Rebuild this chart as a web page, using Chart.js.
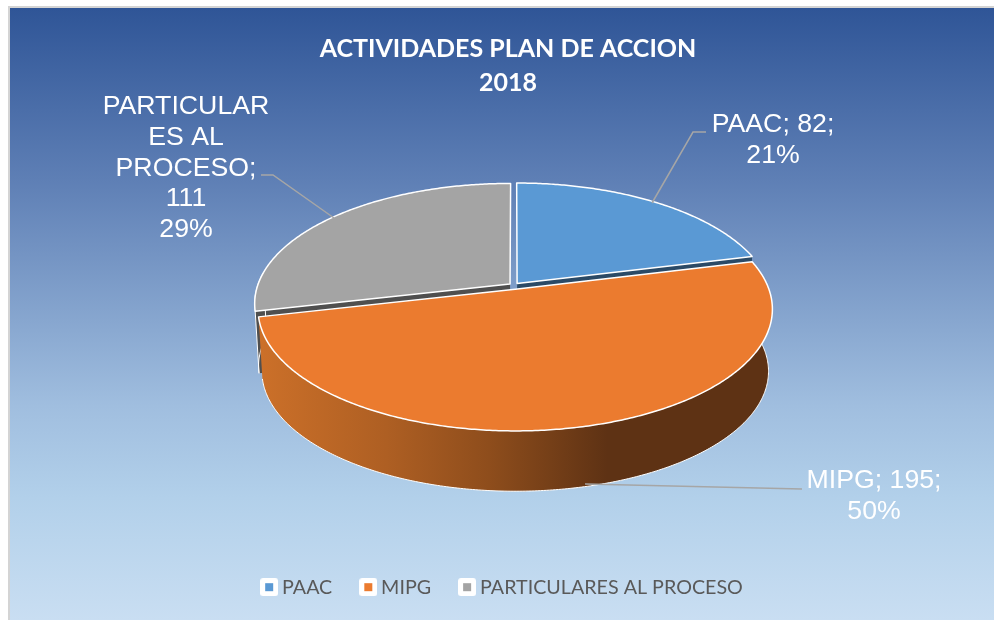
<!DOCTYPE html>
<html><head><meta charset="utf-8">
<style>html,body{margin:0;padding:0;background:#fff}canvas{display:block}</style>
<script src="https://cdn.jsdelivr.net/npm/chart.js@4/dist/chart.umd.min.js"></script>
</head><body><canvas id="c" width="994" height="620"></canvas>
<script>
const categories = ['PAAC', 'MIPG', 'PARTICULARES AL PROCESO'];
const values = [82, 195, 111];
const percents = [21, 50, 29];
const titleLines = ['ACTIVIDADES PLAN DE ACCION', '2018'];
const labelLines = [
  ['PAAC; 82;', '21%'],
  ['MIPG; 195;', '50%'],
  ['PARTICULAR', 'ES AL', 'PROCESO;', '111', '29%']
];
const topColors = ['#5A99D4', '#EB7B2F', '#A4A4A4'];
const wallColors = ['#2B4A66', null, '#4F4F4F'];
const labelAnchors = [[773, 125], [874, 481], [186, 107]];
const leaders = [
  [[652, 203], [693, 132], [706, 132]],
  [[585, 484], [802, 489]],
  [[334, 218], [273, 175], [261, 175]]
];

const G = {cx: 514, cy: 286, A: 117.5, B: 252.6, k: 0.1626, D: 62.5, shrink: 0.015, explode: 0.02, explodeY: 1.4};
function project(theta, r, dx, dy, z) {
  const u = r * Math.sin(theta) + dx, v = r * Math.cos(theta) + dy;
  const w = 1 + G.k * v, s = 1 - z * G.shrink;
  return [G.cx + G.B * s * u / w, G.cy + z * G.D - G.A * s * v / w];
}
function arcPts(a, b, dx, dy, z) {
  const pts = [], n = Math.max(2, Math.ceil(Math.abs(b - a) / 0.01));
  for (let i = 0; i <= n; i++) pts.push(project(a + (b - a) * i / n, 1, dx, dy, z));
  return pts;
}
function poly(ctx, pts) {
  ctx.beginPath();
  pts.forEach((p, i) => i ? ctx.lineTo(p[0], p[1]) : ctx.moveTo(p[0], p[1]));
  ctx.closePath();
}
const pie3d = {
  id: 'pie3d',
  afterLayout(chart) { chart.legend.right -= 7; },
  beforeDraw(chart) {
    const ctx = chart.ctx;
    ctx.save();
    ctx.fillStyle = '#fff'; ctx.fillRect(0, 0, 994, 620);
    ctx.fillStyle = '#D4D4D4'; ctx.fillRect(8, 6, 986, 614);
    const g = ctx.createLinearGradient(0, 8, 0, 620);
    g.addColorStop(0, '#2F5597');
    g.addColorStop(0.28, '#5E7FB5');
    g.addColorStop(0.65, '#A0BEDF');
    g.addColorStop(0.8, '#B2D0EA');
    g.addColorStop(1, '#C9DEF2');
    ctx.fillStyle = g; ctx.fillRect(10, 8, 984, 612);
    ctx.restore();
  },
  beforeDatasetsDraw(chart) {
    const ctx = chart.ctx, arcs = chart.getDatasetMeta(0).data;
    const slices = arcs.map((el, i) => {
      const a = el.startAngle + Math.PI / 2, b = el.endAngle + Math.PI / 2, mid = (a + b) / 2;
      return {i, a, b, dx: G.explode * Math.sin(mid), dy: G.explode * G.explodeY * Math.cos(mid)};
    });
    ctx.save();
    ctx.lineJoin = 'round';
    const face = s => { const c = project(0, 0, s.dx, s.dy, 0); return [c].concat(arcPts(s.a, s.b, s.dx, s.dy, 0)); };
    [slices[0], slices[2]].forEach(s => {
      const edge = s.i === 0 ? s.b : s.a;
      const q = [project(0, 0, s.dx, s.dy, 0), project(edge, 1, s.dx, s.dy, 0), project(edge, 1, s.dx, s.dy, 1), project(0, 0, s.dx, s.dy, 1)];
      ctx.fillStyle = wallColors[s.i];
      poly(ctx, q); ctx.fill();
      if (s.i === 2) {
        const side = arcPts(s.a, s.a + 0.32, s.dx, s.dy, 0).concat(arcPts(s.a + 0.32, s.a, s.dx, s.dy, 1));
        poly(ctx, side); ctx.fill();
        ctx.strokeStyle = '#fff'; ctx.lineWidth = 1; ctx.stroke();
      }
      ctx.fillStyle = topColors[s.i];
      poly(ctx, face(s)); ctx.fill();
      ctx.strokeStyle = '#fff'; ctx.lineWidth = 1.5; ctx.stroke();
    });
    const m = slices[1];
    const wall = arcPts(m.a, m.b, m.dx, m.dy, 0).concat(arcPts(m.b, m.a, m.dx, m.dy, 1));
    const wg = ctx.createLinearGradient(258, 0, 772, 0);
    wg.addColorStop(0, '#CC7029');
    wg.addColorStop(0.25, '#AE5F23');
    wg.addColorStop(0.45, '#8E4D1C');
    wg.addColorStop(0.68, '#5E3214');
    wg.addColorStop(1, '#5E3214');
    ctx.fillStyle = wg;
    poly(ctx, wall); ctx.fill();
    ctx.strokeStyle = '#fff'; ctx.lineWidth = 1; ctx.beginPath();
    arcPts(m.a, m.b, m.dx, m.dy, 1).forEach((p, i) => i ? ctx.lineTo(p[0], p[1]) : ctx.moveTo(p[0], p[1]));
    ctx.stroke();
    ctx.fillStyle = topColors[1];
    poly(ctx, face(m)); ctx.fill();
    ctx.strokeStyle = '#fff'; ctx.lineWidth = 1.5; ctx.stroke();
    ctx.restore();
    return false;
  },
  afterDraw(chart) {
    const ctx = chart.ctx;
    ctx.save();
    ctx.strokeStyle = '#A6A6A6'; ctx.lineWidth = 1.5;
    leaders.forEach(l => { ctx.beginPath(); l.forEach((p, i) => i ? ctx.lineTo(p[0], p[1]) : ctx.moveTo(p[0], p[1])); ctx.stroke(); });
    ctx.fillStyle = '#fff'; ctx.font = '26.7px "Liberation Sans"';
    ctx.textAlign = 'center'; ctx.textBaseline = 'middle';
    labelLines.forEach((lines, i) => lines.forEach((t, j) => ctx.fillText(t, labelAnchors[i][0], labelAnchors[i][1] + j * 30.6)));
    ctx.restore();
  }
};
function marker(color) {
  const c = document.createElement('canvas'); c.width = 18; c.height = 18;
  const x = c.getContext('2d');
  x.fillStyle = '#fff'; x.beginPath(); x.roundRect(0, 0, 18, 18, 3); x.fill();
  x.fillStyle = color; x.fillRect(5, 5, 8, 8);
  return c;
}
new Chart(document.getElementById('c'), {
  type: 'pie',
  data: {labels: categories, datasets: [{data: values, backgroundColor: topColors, borderWidth: 0}]},
  options: {
    responsive: false, animation: false, events: [],
    layout: {padding: {left: 22, right: 0, top: 32, bottom: 13}},
    plugins: {
      tooltip: {enabled: false},
      title: {display: true, text: titleLines, color: '#fff', padding: {top: 0, bottom: 0},
        font: {family: 'Lato', size: 25, weight: 'bold', lineHeight: 1.36}},
      legend: {position: 'bottom', labels: {
        usePointStyle: true, pointStyleWidth: 6, padding: 33, color: '#595959',
        font: {family: 'Lato', size: 19.7},
        generateLabels: ch => ch.data.labels.map((t, i) => ({text: t, fontColor: '#595959', pointStyle: marker(topColors[i]), index: i, lineWidth: 0}))
      }}
    }
  },
  plugins: [pie3d]
});
</script></body></html>
